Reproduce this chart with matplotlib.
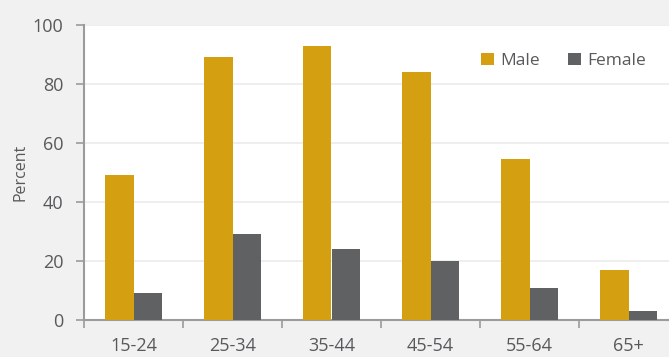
import numpy as np
import matplotlib
matplotlib.use('Agg')
import matplotlib.pyplot as plt

# Age groups and percentages by sex
age_groups = ['15-24', '25-34', '35-44', '45-54', '55-64', '65+']
male = [49, 89, 93, 84, 54.5, 17]
female = [9, 29, 24, 20, 11, 3]

male_color = '#D4A012'
female_color = '#606163'
text_color = '#58595b'
axis_color = '#9a9b9d'

plt.rcParams['font.family'] = ['Open Sans', 'DejaVu Sans']

fig = plt.figure(figsize=(6.69, 3.57), dpi=100)
fig.patch.set_facecolor('#f1f1f1')
# axes runs past the right edge of the figure
ax = fig.add_axes([84 / 669, 37 / 357, 594 / 669, 295 / 357])
ax.set_facecolor('white')

x = np.arange(len(age_groups))
w = 0.29
ax.bar(x - w / 2, male, width=w, color=male_color, label='Male', zorder=3)
ax.bar(x + w / 2, female, width=w, color=female_color, label='Female', zorder=3)

ax.set_xlim(-0.5, len(age_groups) - 0.5)
ax.set_ylim(0, 100)
ax.set_yticks(range(0, 101, 20))
ax.yaxis.grid(True, color='#ebebeb', linewidth=1.2, zorder=0)

ax.set_xticks(x)
ax.set_xticklabels(age_groups)
ax.set_xticks(np.arange(-0.5, len(age_groups), 1), minor=True)
ax.tick_params(axis='x', which='major', length=0, pad=12.5, labelsize=13, labelcolor=text_color)
ax.tick_params(axis='x', which='minor', length=6, width=1.2, color=axis_color)
ax.tick_params(axis='y', length=6, width=1.2, color=axis_color, labelsize=13,
               labelcolor=text_color, pad=9)

for side in ['top', 'right']:
    ax.spines[side].set_visible(False)
for side in ['left', 'bottom']:
    ax.spines[side].set_color(axis_color)
    ax.spines[side].set_linewidth(1.5)

ax.set_ylabel('Percent', color=text_color, fontsize=11.5, labelpad=3)

leg = ax.legend(loc='upper right', bbox_to_anchor=(0.957, 0.93), ncol=2, frameon=False,
                fontsize=12.5, handlelength=0.75, handleheight=0.75, handletextpad=0.35,
                columnspacing=1.6, borderaxespad=0)
for t in leg.get_texts():
    t.set_color(text_color)

fig.savefig('out.png', dpi=100, facecolor=fig.get_facecolor())
